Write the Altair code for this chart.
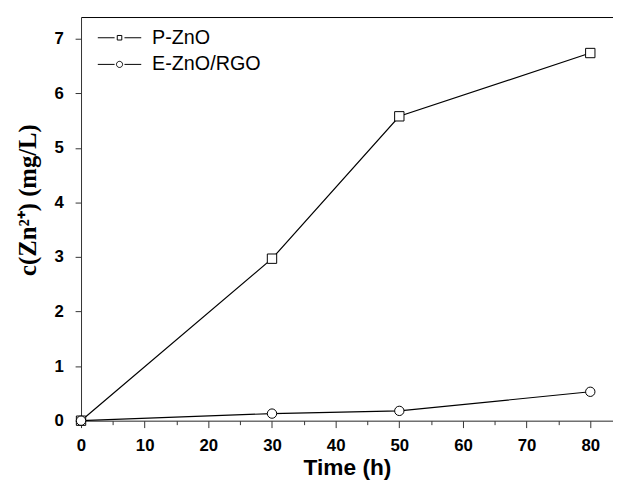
import altair as alt
import pandas as pd

series = ["P-ZnO", "E-ZnO/RGO"]
time_h = [0, 30, 50, 80]
p_zno = [0.0, 2.97, 5.58, 6.74]
e_zno_rgo = [0.0, 0.13, 0.18, 0.53]

x_ticks = list(range(0, 81, 5))
y_ticks = [i * 0.5 for i in range(0, 15)]

rows = []
for t, v in zip(time_h, p_zno):
    rows.append({"time": t, "conc": v, "series": series[0]})
for t, v in zip(time_h, e_zno_rgo):
    rows.append({"time": t, "conc": v, "series": series[1]})
df = pd.DataFrame(rows)

AX = "#333333"
x_scale = alt.Scale(domain=[0, 83.57], nice=False, zero=False)
y_scale = alt.Scale(domain=[0, 7.4], nice=False)

x_axis = alt.Axis(
    values=x_ticks, format="d",
    labelExpr="datum.value % 10 === 0 ? datum.label : ''",
    tickSize={"condition": {"test": "datum.value % 10 === 0", "value": 7}, "value": 4},
    labelFont="Liberation Sans", labelFontWeight="bold", labelFontSize=17,
    labelColor="black", labelPadding=10, labelFlush=False,
    title="Time (h)", titleFont="Liberation Sans", titleFontWeight="bold",
    titleFontSize=23, titleColor="black", titlePadding=4,
    domainColor=AX, tickColor=AX, grid=False,
)
y_axis = alt.Axis(
    values=y_ticks, format="d",
    labelExpr="datum.value % 1 === 0 ? datum.label : ''",
    tickSize={"condition": {"test": "datum.value % 1 === 0", "value": 6}, "value": 3},
    labelFont="Liberation Sans", labelFontWeight="bold", labelFontSize=17,
    labelColor="black", labelPadding=12, labelFlush=False,
    title="c(Zn²⁺) (mg/L)", titleFont="Liberation Serif", titleFontWeight="bold",
    titleFontSize=25, titleColor="black", titlePadding=14, titleY=185,
    domainColor=AX, tickColor=AX, grid=False,
)

base = alt.Chart(df)

lines = base.mark_line(color="black", strokeWidth=1.2).encode(
    x=alt.X("time:Q", scale=x_scale, axis=x_axis),
    y=alt.Y("conc:Q", scale=y_scale, axis=y_axis),
    detail="series:N",
)

points = base.mark_point(filled=True, fill="white", stroke="black", strokeWidth=1, size=90, opacity=1).encode(
    x=alt.X("time:Q", scale=x_scale, axis=None),
    y=alt.Y("conc:Q", scale=y_scale),
    shape=alt.Shape("series:N", scale=alt.Scale(domain=series, range=["square", "circle"]), legend=None),
)

sq_path = "M-4.4,0H-1M1,0H4.4M-0.46,-0.46H0.46V0.46H-0.46Z"
ci_path = "M-4.4,0H-1M1,0H4.4M-0.62,0A0.62,0.62,0,1,1,0.62,0A0.62,0.62,0,1,1,-0.62,0Z"

legend_layer = base.mark_point(opacity=0).encode(
    x=alt.X("time:Q", scale=x_scale, axis=None),
    y=alt.Y("conc:Q", scale=y_scale),
    shape=alt.Shape(
        "series:N",
        scale=alt.Scale(domain=series, range=[sq_path, ci_path]),
        legend=alt.Legend(
            title=None, orient="none", legendX=29, legendY=11,
            symbolSize=100, symbolStrokeColor="black", symbolFillColor="white",
            symbolStrokeWidth=1, symbolOpacity=1,
            labelFont="Liberation Sans", labelFontSize=20, labelColor="black",
            labelOffset=23, rowPadding=7, padding=0,
        ),
    ),
)

top_border = base.mark_point(opacity=0).encode(
    x=alt.X("time:Q", scale=x_scale,
            axis=alt.Axis(orient="top", labels=False, ticks=False, title=None,
                          domainColor="black", grid=False)),
    y=alt.Y("conc:Q", scale=y_scale),
)

chart = alt.layer(lines, points, legend_layer, top_border).resolve_scale(
    shape="independent"
).resolve_axis(x="independent").properties(
    width=539, height=409,
    autosize=alt.AutoSizeParams(type="none"),
    padding={"left": 74, "top": 6, "right": 0, "bottom": 61},
).configure_view(stroke=None).configure(background="white")

chart.save("out.html", embed_options={"renderer": "svg", "actions": False})
